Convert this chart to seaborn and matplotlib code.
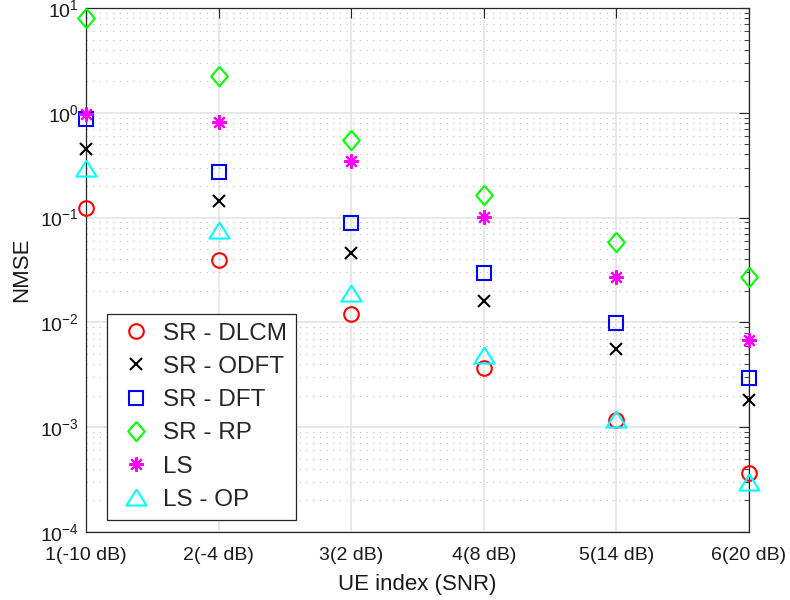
import matplotlib
matplotlib.use("Agg")
import matplotlib.pyplot as plt
import matplotlib.ticker as mticker
import seaborn as sns
import pandas as pd

# UE index with its SNR
ue_index = [1, 2, 3, 4, 5, 6]
ue_labels = ["1(-10 dB)", "2(-4 dB)", "3(2 dB)", "4(8 dB)", "5(14 dB)", "6(20 dB)"]

# NMSE per method
sr_dlcm = [0.124, 0.039, 0.012, 0.0037, 0.00117, 0.000366]
sr_odft = [0.45, 0.144, 0.046, 0.016, 0.0056, 0.00182]
sr_dft = [0.87, 0.272, 0.0887, 0.0296, 0.0099, 0.00295]
sr_rp = [8.0, 2.24, 0.55, 0.164, 0.058, 0.027]
ls = [0.97, 0.82, 0.347, 0.101, 0.027, 0.0068]
ls_op = [0.30, 0.076, 0.019, 0.0049, 0.00121, 0.00030]

# MATLAB-like marker shapes: taller diamond, flatter triangle, 8-arm asterisk
diamond = [(0, 1), (0.85, 0), (0, -1), (-0.85, 0), (0, 1)]
triangle = [(0, 0.8), (1, -0.8), (-1, -0.8), (0, 0.8)]
asterisk = (8, 2, 0)

series = [
    ("SR - DLCM", sr_dlcm, "o", (1, 0, 0), 10.5, True),
    ("SR - ODFT", sr_odft, "x", (0, 0, 0), 8, False),
    ("SR - DFT", sr_dft, "s", (0, 0, 1), 9.5, True),
    ("SR - RP", sr_rp, diamond, (0, 1, 0), 14, True),
    ("LS", ls, asterisk, (1, 0, 1), 10.5, False),
    ("LS - OP", ls_op, triangle, (0, 1, 1), 14.5, True),
]

sns.set_theme(style="white")
plt.rcParams["font.family"] = ["Liberation Sans", "DejaVu Sans"]
plt.rcParams["mathtext.fontset"] = "custom"
plt.rcParams["mathtext.rm"] = "Liberation Sans"
plt.rcParams["mathtext.it"] = "Liberation Sans:italic"

fig = plt.figure(figsize=(7.9, 6.0), dpi=100)
ax = fig.add_axes([0.109, 0.1133, 0.839, 0.8734])

for name, vals, marker, color, ms, hollow in series:
    df = pd.DataFrame({"ue": ue_index, "nmse": vals})
    kw = dict(marker=marker, linestyle="", color=color, markersize=ms,
              markeredgewidth=1.5, markeredgecolor=color, clip_on=False, zorder=3)
    if hollow:
        kw["markerfacecolor"] = "none"
    sns.lineplot(data=df, x="ue", y="nmse", ax=ax, label=name, **kw)

ax.set_yscale("log")
ax.set_xlim(1, 6)
ax.set_ylim(1e-4, 1e1)
ax.set_xticks(ue_index)
ax.set_xticklabels(ue_labels)
ax.yaxis.set_major_locator(mticker.LogLocator(base=10, numticks=10))
ax.yaxis.set_minor_locator(mticker.LogLocator(base=10, subs=range(2, 10), numticks=20))
ax.yaxis.set_minor_formatter(mticker.NullFormatter())

ax.grid(True, which="major", axis="both", color="#e1e1e1", linewidth=1.1, linestyle="-")
ax.grid(True, which="minor", axis="y", color="#bdbdbd", linewidth=0.8, linestyle=(0, (1, 5)))
ax.set_axisbelow(True)

edge = "#262626"
for sp in ax.spines.values():
    sp.set_color(edge)
    sp.set_linewidth(0.9)
ax.tick_params(which="both", direction="in", top=True, right=True, colors=edge,
               labelcolor="#1a1a1a", labelsize=14)
ax.tick_params(which="major", length=7, width=0.8)
ax.tick_params(which="minor", length=3.5, width=0.6)
ax.tick_params(axis="x", pad=11)
ax.tick_params(axis="y", pad=5)

ax.set_xlabel("UE index (SNR)", fontsize=16, labelpad=7, color="#1a1a1a")
ax.set_ylabel("NMSE", fontsize=16, labelpad=6, color="#1a1a1a")

leg = ax.legend(loc="lower left", bbox_to_anchor=(0.032, 0.023), fontsize=17.5,
                frameon=True, fancybox=False, edgecolor=edge, framealpha=1,
                handlelength=1.6, handletextpad=0.3, borderpad=0.38,
                labelspacing=0.46, borderaxespad=0)
leg.get_frame().set_linewidth(0.9)

fig.savefig("out.png", dpi=100)
